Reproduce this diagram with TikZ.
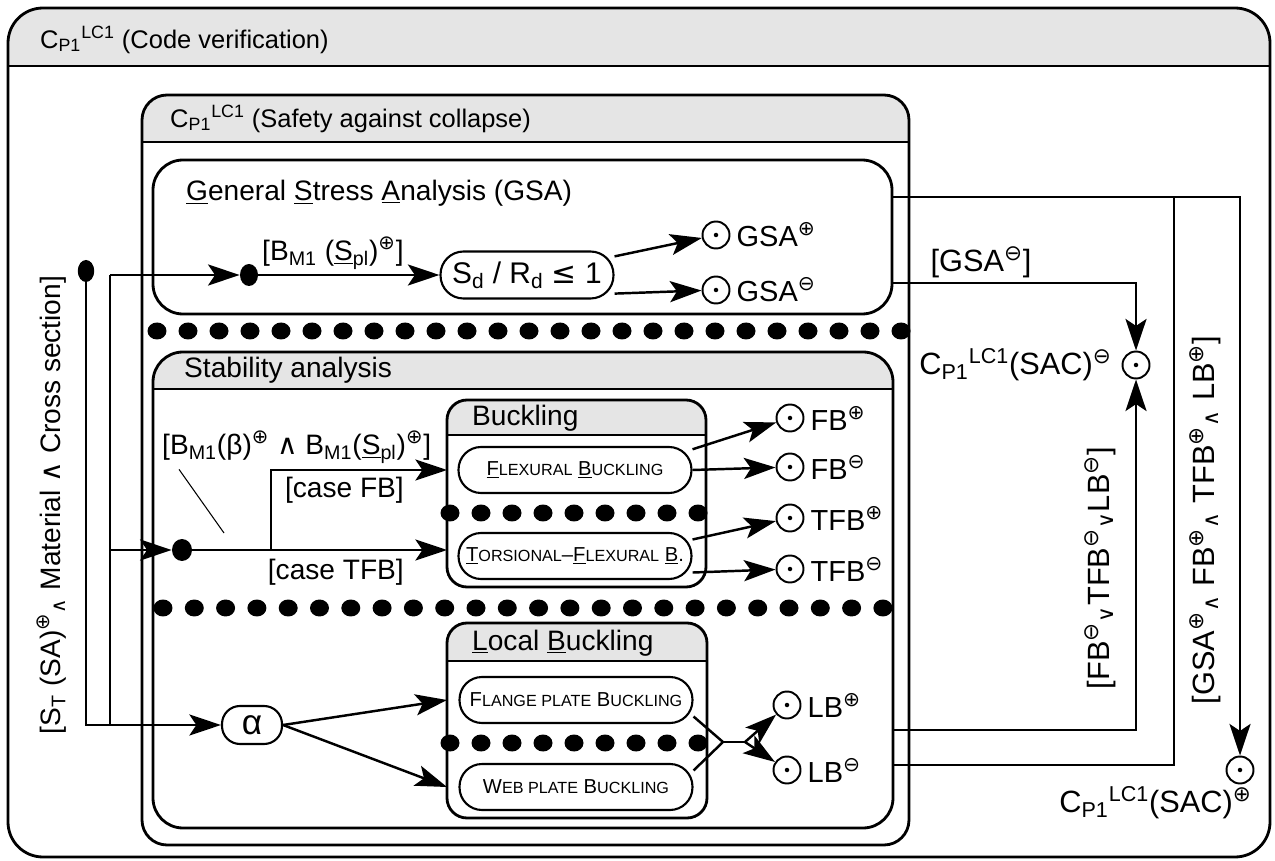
\documentclass[tikz,border=0pt]{standalone}
\usepackage{fontspec}
\setmainfont{Liberation Sans}
\newfontfamily\symb{DejaVu Sans}
\usetikzlibrary{arrows.meta,positioning,shapes.geometric}

\newcommand{\plusmark}{\textsuperscript{\symb ⊕}}
\newcommand{\minusmark}{\textsuperscript{\symb ⊖}}
\newcommand{\cpone}{C\textsubscript{P1}\textsuperscript{LC1}}
\newcommand{\smallcap}[1]{{\fontsize{9.2}{11}\selectfont #1}}

\tikzset{
  boxline/.style={line width=1.6pt},
  headfill/.style={fill=black!10},
  wire/.style={line width=1.4pt},
  flow/.style={wire, -{Stealth[length=18pt,width=12pt,inset=4pt]}},
  note/.style={line width=0.6pt},
  activity/.style={draw, line width=1.2pt, rounded corners=0.45cm,
    minimum width=4.66cm, minimum height=0.92cm, inner sep=1pt,
    font=\fontsize{11.5}{13}\selectfont},
  outcome/.style={circle, draw, line width=1.1pt, minimum size=0.54cm, inner sep=0pt,
    path picture={\fill (path picture bounding box.center) circle (0.045cm);}},
  pseudo/.style={ellipse, fill, inner sep=0pt},
  sidelab/.style={font=\fontsize{17.5}{20}\selectfont},
  titletext/.style={anchor=west, font=\fontsize{14.5}{17}\selectfont}
}

\begin{document}
\begin{tikzpicture}[x=0.02cm, y=-0.02cm, font=\fontsize{16}{19}\selectfont]
  \useasboundingbox (0,0) rectangle (1275,861);

  % containers with a shaded title band: outer, safety, stability, buckling, local buckling
  \foreach \xa/\ya/\xb/\yb/\hy/\r in {8/8/1270/857/66/0.7cm, 142/95/909/845/142/0.5cm,
      153/352/893/828/389/0.6cm, 447/400/706/587/435/0.4cm, 447/623/707/818/661/0.4cm}{
    \begin{scope}
      \clip[rounded corners=\r] (\xa,\ya) rectangle (\xb,\yb);
      \fill[headfill] (\xa,\ya) rectangle (\xb,\hy);
    \end{scope}
    \draw[boxline, rounded corners=\r] (\xa,\ya) rectangle (\xb,\yb);
    \draw[boxline] (\xa,\hy) -- (\xb,\hy);
  }
  \draw[boxline, rounded corners=0.6cm] (153,160) rectangle (892,314);

  % concurrent regions
  \foreach \i in {0,...,24}
    \fill ({157+31*\i},331) ellipse [x radius=0.19cm, y radius=0.17cm];
  \foreach \i in {0,...,23}
    \fill ({163+31.3*\i},608) ellipse [x radius=0.19cm, y radius=0.17cm];
  \foreach \i in {0,...,8}{
    \fill ({450+31*\i},513) ellipse [x radius=0.19cm, y radius=0.17cm];
    \fill ({450+31*\i},743) ellipse [x radius=0.19cm, y radius=0.17cm];
  }

  % ports on the frames
  \coordinate (buck-w) at (447,400);
  \coordinate (lb-w) at (447,623);
  \coordinate (gsa-hi) at (892,197);
  \coordinate (gsa-lo) at (892,283);
  \coordinate (stab-hi) at (893,730);
  \coordinate (stab-lo) at (893,765);

  % titles
  \node[titletext] (cv-title) at (34,40) {\cpone\ (Code verification)};
  \node[titletext] (sac-title) at (164,119) {\cpone\ (Safety against collapse)};
  \node[anchor=west] (gsa-title) at (180,193) {\underline{G}eneral \underline{S}tress \underline{A}nalysis (GSA)};
  \node[anchor=west] (stab-title) at (178,370) {Stability analysis};
  \node[anchor=west] (buck-title) at (466,418) {Buckling};
  \node[anchor=west] (lb-title) at (466,643) {\underline{L}ocal \underline{B}uckling};

  % general stress analysis
  \node[pseudo, minimum width=0.33cm, minimum height=0.44cm] (fork) at (86,271) {};
  \coordinate (split) at (110,275);
  \node[pseudo, minimum width=0.36cm, minimum height=0.44cm] (gdot) at (249,275) {};
  \node[activity, minimum width=3.46cm, minimum height=0.94cm, rounded corners=0.46cm,
    font=\fontsize{17}{20}\selectfont] (sdrd) at (527,275) {S\textsubscript{d} / R\textsubscript{d} {\symb ≤} 1};
  \node[anchor=west] (gsa-guard) at (256,253) {[B\textsubscript{M1} (\underline{S}\textsubscript{pl})\plusmark]};
  \node[outcome, label={[font=\fontsize{16.5}{19}\selectfont]right:GSA\plusmark}] (gsap) at (716,235) {};
  \node[outcome, label={[font=\fontsize{16.5}{19}\selectfont]right:GSA\minusmark}] (gsam) at (716,290) {};

  \draw[flow] (split) -- (gdot);
  \draw[flow] (gdot) -- (sdrd);
  \draw[flow] (sdrd.12) -- (gsap);
  \draw[flow] (sdrd.-12) -- (gsam);

  % buckling
  \node[pseudo, minimum width=0.4cm, minimum height=0.44cm] (sdot) at (182,550) {};
  \coordinate (caseturn) at (271,550);
  \coordinate (notetip) at (224,533);
  \node[anchor=west] (stab-guard) at (156,447) {[B\textsubscript{M1}(β)\plusmark\ {\symb ∧} B\textsubscript{M1}(\underline{S}\textsubscript{pl})\plusmark]};
  \node[anchor=east] (case-fb) at (410,490) {[case FB]};
  \node[anchor=east] (case-tfb) at (410,572) {[case TFB]};
  \node[activity] (fb) at (575,470) {\underline{F}\smallcap{LEXURAL} \underline{B}\smallcap{UCKLING}};
  \node[activity] (tf) at (575,556) {\underline{T}\smallcap{ORSIONAL}--\underline{F}\smallcap{LEXURAL} \underline{B}.};
  \node[outcome, label={[font=\fontsize{16.5}{19}\selectfont]right:FB\plusmark}] (fbp) at (790,418) {};
  \node[outcome, label={[font=\fontsize{16.5}{19}\selectfont]right:FB\minusmark}] (fbm) at (790,467) {};
  \node[outcome, label={[font=\fontsize{16.5}{19}\selectfont]right:TFB\plusmark}] (tfbp) at (790,518) {};
  \node[outcome, label={[font=\fontsize{16.5}{19}\selectfont]right:TFB\minusmark}] (tfbm) at (790,569) {};

  \draw[wire] (split) -- (split |- sdot);
  \draw[flow] (split |- sdot) -- (sdot);
  \draw[flow] (sdot) -- (buck-w |- sdot);
  \draw[flow] (caseturn) |- (buck-w |- fb);
  \draw[note] ([xshift=0.46cm]stab-guard.south west) -- (notetip);
  \draw[flow] (fb.10) -- (fbp);
  \draw[flow] (fb.east) -- (fbm);
  \draw[flow] (tf.8) -- (tfbp);
  \draw[flow] (tf.-8) -- (tfbm);

  % local buckling
  \node[activity, minimum width=1.2cm, minimum height=0.76cm, rounded corners=0.36cm,
    font=\fontsize{20}{22}\selectfont] (alpha) at (252,725) {α};
  \node[activity] (flange) at (576,700) {F\smallcap{LANGE PLATE} B\smallcap{UCKLING}};
  \node[activity] (web) at (576,787) {W\smallcap{EB PLATE} B\smallcap{UCKLING}};
  \node[outcome, label={[font=\fontsize{16.5}{19}\selectfont]right:LB\plusmark}] (lbp) at (787,705) {};
  \node[outcome, label={[font=\fontsize{16.5}{19}\selectfont]right:LB\minusmark}] (lbm) at (787,770) {};
  \coordinate (join) at (723,742);
  \coordinate (lbfork) at (745,742);

  \draw[flow] (fork) |- (alpha);
  \draw[wire] (split |- sdot) -- (split |- alpha);
  \draw[flow] (alpha.east) -- (lb-w |- flange);
  \draw[flow] (alpha.east) -- (lb-w |- web);
  \draw[wire] (flange.-8) -- (join) -- (web.8);
  \draw[wire] (join) -- (lbfork);
  \draw[flow] (lbfork) -- (lbp);
  \draw[flow] (lbfork) -- (lbm);

  % safety against collapse results
  \node[outcome] (sacm) at (1136,365) {};
  \node[outcome] (sacp) at (1240,770) {};
  \node[anchor=east, sidelab] (sacm-lab) at (1118,365) {\cpone(SAC)\minusmark};
  \node[anchor=east, sidelab] (sacp-lab) at (1258,803) {\cpone(SAC)\plusmark};
  \node[sidelab] (gsa-neg) at (981,262) {[GSA\minusmark]};
  \node[sidelab, rotate=90] (neg-guard) at (1100,568)
    {[FB\minusmark\textsubscript{\symb ∨}TFB\minusmark\textsubscript{\symb ∨}LB\minusmark]};
  \node[sidelab, rotate=90] (pos-guard) at (1205,520)
    {[GSA\plusmark\textsubscript{\symb ∧} FB\plusmark\textsubscript{\symb ∧} TFB\plusmark\textsubscript{\symb ∧} LB\plusmark]};
  \node[rotate=90] (in-guard) at (52,505)
    {[S\textsubscript{T} (SA)\plusmark\textsubscript{\symb ∧} Material {\symb ∧} Cross section]};

  \draw[flow] (gsa-hi) -| (sacp);
  \draw[wire] (stab-lo) -| (gsa-hi -| 1174,0);
  \draw[flow] (gsa-lo) -| (sacm);
  \draw[flow] (stab-hi) -| (sacm);
\end{tikzpicture}
\end{document}
